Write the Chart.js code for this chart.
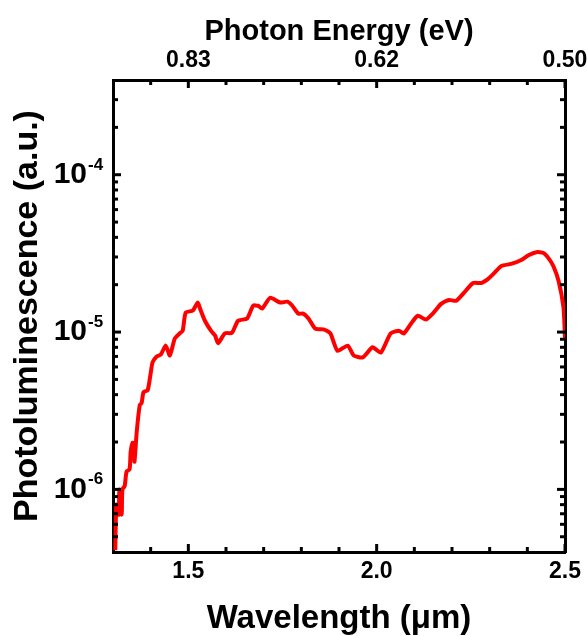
<!DOCTYPE html>
<html><head><meta charset="utf-8">
<script src="https://cdn.jsdelivr.net/npm/chart.js@4"></script>
<style>html,body{margin:0;padding:0;background:#fff}canvas{display:block}</style>
</head><body>
<canvas id="c" width="587" height="636"></canvas>
<script>
const wavelength = [1.306,1.309,1.315,1.317,1.323,1.325,1.331,1.336,1.344,1.347,1.352,1.355,1.357,1.363,1.371,1.376,1.381,1.392,1.400,1.405,1.416,1.427,1.440,1.451,1.464,1.477,1.485,1.493,1.512,1.525,1.533,1.544,1.560,1.571,1.579,1.597,1.616,1.632,1.656,1.672,1.685,1.696,1.717,1.744,1.763,1.776,1.792,1.805,1.819,1.837,1.859,1.877,1.896,1.923,1.939,1.963,1.989,2.011,2.037,2.059,2.072,2.091,2.109,2.131,2.149,2.171,2.192,2.211,2.232,2.256,2.277,2.296,2.312,2.331,2.357,2.384,2.403,2.424,2.443,2.456,2.469,2.483,2.496,2.500];
const photoluminescence = [4.1e-7,8.0e-7,6.9e-7,1.0e-6,6.9e-7,1.0e-6,1.05e-6,1.30e-6,1.34e-6,1.74e-6,1.98e-6,1.92e-6,1.50e-6,2.32e-6,3.44e-6,3.54e-6,4.15e-6,4.27e-6,5.47e-6,6.42e-6,7.0e-6,7.2e-6,8.2e-6,7.1e-6,9.1e-6,9.8e-6,1.02e-5,1.33e-5,1.37e-5,1.54e-5,1.37e-5,1.18e-5,1.02e-5,9.5e-6,8.5e-6,9.8e-6,9.9e-6,1.18e-5,1.22e-5,1.47e-5,1.47e-5,1.41e-5,1.65e-5,1.54e-5,1.56e-5,1.47e-5,1.31e-5,1.31e-5,1.22e-5,1.05e-5,1.04e-5,9.8e-6,7.6e-6,8.2e-6,7.1e-6,6.9e-6,8.0e-6,7.4e-6,9.8e-6,1.02e-5,9.8e-6,1.13e-5,1.27e-5,1.20e-5,1.31e-5,1.51e-5,1.60e-5,1.58e-5,1.78e-5,2.05e-5,2.05e-5,2.18e-5,2.37e-5,2.63e-5,2.71e-5,2.87e-5,3.08e-5,3.22e-5,3.18e-5,2.95e-5,2.63e-5,2.11e-5,1.43e-5,9.1e-6];

const xMajorTicks = [1.5, 2.0, 2.5];
const xTickLabels = ['1.5', '2.0', '2.5'];
const xMinorTicks = [1.4, 1.6, 1.7, 1.8, 1.9, 2.1, 2.2, 2.3, 2.4];
const energyTickLabels = ['0.83', '0.62', '0.50'];
const yMajorTicks = [1e-6, 1e-5, 1e-4];
const yTickBase = ['10', '10', '10'];
const yTickExponents = ['-6', '-5', '-4'];
const yMinorTicks = [5e-7,6e-7,7e-7,8e-7,9e-7,2e-6,3e-6,4e-6,5e-6,6e-6,7e-6,8e-6,9e-6,2e-5,3e-5,4e-5,5e-5,6e-5,7e-5,8e-5,9e-5,2e-4,3e-4];

const FONT = "'Liberation Sans', Arial, Helvetica, sans-serif";

const inwardTicks = {
  id: 'inwardTicks',
  afterDraw(chart) {
    const ctx = chart.ctx, ca = chart.chartArea;
    const sx = chart.scales.x, sy = chart.scales.y;
    ctx.save();
    ctx.strokeStyle = '#000';
    ctx.lineWidth = 3;
    const line = (x1, y1, x2, y2) => { ctx.beginPath(); ctx.moveTo(x1, y1); ctx.lineTo(x2, y2); ctx.stroke(); };
    const drawX = (vals, len) => vals.forEach(v => {
      const px = sx.getPixelForValue(v);
      line(px, ca.bottom, px, ca.bottom - len);
      line(px, ca.top, px, ca.top + len);
    });
    const drawY = (vals, len) => vals.forEach(v => {
      const py = sy.getPixelForValue(v);
      line(ca.left, py, ca.left + len, py);
      line(ca.right, py, ca.right - len, py);
    });
    drawX(xMajorTicks, 8); drawX(xMinorTicks, 5);
    drawY(yMajorTicks, 8); drawY(yMinorTicks, 5);
    // superscript exponents of the decade labels
    ctx.fillStyle = '#000';
    ctx.font = 'bold 17px ' + FONT;
    ctx.textAlign = 'left';
    ctx.textBaseline = 'alphabetic';
    const labelRight = ca.left - sy.options.ticks.padding;
    yMajorTicks.forEach((v, i) => {
      const py = sy.getPixelForValue(v);
      ctx.fillText(yTickExponents[i], labelRight + 1, py - 5);
    });
    ctx.restore();
  }
};

new Chart(document.getElementById('c'), {
  type: 'line',
  data: {
    datasets: [{
      data: wavelength.map((w, i) => ({ x: w, y: photoluminescence[i] })),
      borderColor: '#ff0000',
      borderWidth: 4,
      pointRadius: 0,
      tension: 0.2,
      fill: false
    }]
  },
  options: {
    responsive: false,
    devicePixelRatio: 1,
    animation: false,
    layout: { padding: 0 },
    plugins: { legend: { display: false }, tooltip: { enabled: false } },
    scales: {
      x: {
        type: 'linear', position: 'bottom', min: 1.3, max: 2.5,
        afterBuildTicks: s => { s.ticks = xMajorTicks.map(v => ({ value: v })); },
        afterFit: s => { s.height = 84; s.paddingLeft = 0; s.paddingRight = 0; },
        grid: { display: false, drawTicks: false },
        border: { display: true, color: '#000', width: 3 },
        ticks: { color: '#000', padding: 6, maxRotation: 0, autoSkip: false,
          font: { family: FONT, size: 23, weight: 'bold' },
          callback: (v, i) => xTickLabels[i] },
        title: { display: true, text: 'Wavelength (\u03BCm)', color: '#000',
          font: { family: FONT, size: 33, weight: 'bold', lineHeight: 1 },
          padding: { top: 0, bottom: 1 } }
      },
      x2: {
        type: 'linear', position: 'top', min: 1.3, max: 2.5,
        afterBuildTicks: s => { s.ticks = xMajorTicks.map(v => ({ value: v })); },
        afterFit: s => { s.height = 80; s.paddingLeft = 0; s.paddingRight = 0; },
        grid: { display: false, drawTicks: false },
        border: { display: true, color: '#000', width: 3 },
        ticks: { color: '#000', padding: 6, maxRotation: 0, autoSkip: false,
          font: { family: FONT, size: 23, weight: 'bold' },
          callback: (v, i) => energyTickLabels[i] },
        title: { display: true, text: 'Photon Energy (eV)', color: '#000',
          font: { family: FONT, size: 29, weight: 'bold', lineHeight: 1 },
          padding: { top: 17, bottom: 0 } }
      },
      y: {
        type: 'logarithmic', position: 'left', min: 4e-7, max: 4e-4,
        afterBuildTicks: s => { s.ticks = yMajorTicks.map(v => ({ value: v })); },
        afterFit: s => { s.width = 113; s.paddingTop = 0; s.paddingBottom = 0; },
        grid: { display: false, drawTicks: false },
        border: { display: true, color: '#000', width: 3 },
        ticks: { color: '#000', padding: 26, autoSkip: false,
          font: { family: FONT, size: 30, weight: 'bold' },
          callback: (v, i) => yTickBase[i] },
        title: { display: true, text: 'Photoluminescence (a.u.)', color: '#000',
          font: { family: FONT, size: 34, weight: 'bold', lineHeight: 1 },
          padding: { top: 11, bottom: 0 } }
      },
      y2: {
        type: 'logarithmic', position: 'right', min: 4e-7, max: 4e-4,
        afterFit: s => { s.width = 22; s.paddingTop = 0; s.paddingBottom = 0; },
        grid: { display: false, drawTicks: false },
        border: { display: true, color: '#000', width: 3 },
        ticks: { display: false }
      }
    }
  },
  plugins: [inwardTicks]
});
</script>
</body></html>
